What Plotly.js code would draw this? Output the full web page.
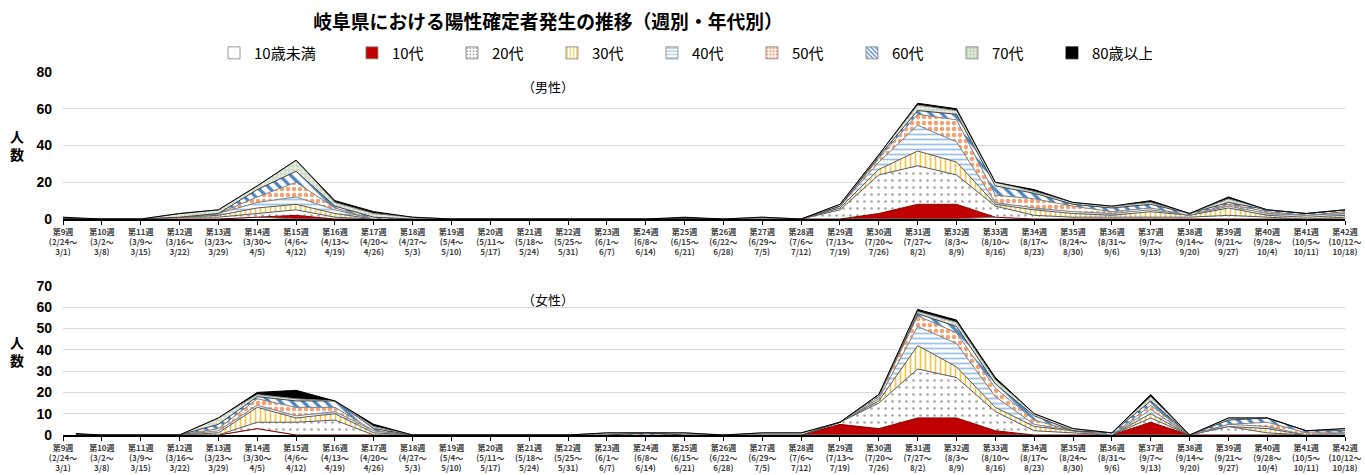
<!DOCTYPE html>
<html>
<head>
<meta charset="utf-8">
<script src="https://cdn.plot.ly/plotly-3.0.1.min.js"></script>
<style>
html,body{margin:0;padding:0;background:#fff;}
#chart{width:1365px;height:475px;}
</style>
</head>
<body>
<div id="chart"></div>
<script>
// ---- data ----
const weekNums = [9,10,11,12,13,14,15,16,17,18,19,20,21,22,23,24,25,26,27,28,29,30,31,32,33,34,35,36,37,38,39,40,41,42];
const weekStarts = ["2/24","3/2","3/9","3/16","3/23","3/30","4/6","4/13","4/20","4/27","5/4","5/11","5/18","5/25","6/1","6/8","6/15","6/22","6/29","7/6","7/13","7/20","7/27","8/3","8/10","8/17","8/24","8/31","9/7","9/14","9/21","9/28","10/5","10/12"];
const weekEnds = ["3/1","3/8","3/15","3/22","3/29","4/5","4/12","4/19","4/26","5/3","5/10","5/17","5/24","5/31","6/7","6/14","6/21","6/28","7/5","7/12","7/19","7/26","8/2","8/9","8/16","8/23","8/30","9/6","9/13","9/20","9/27","10/4","10/11","10/18"];
const ageGroups = ["10歳未満","10代","20代","30代","40代","50代","60代","70代","80歳以上"];

// male (男性)        w9 ........................................................................................ w42
const maleUnder10 = [0,0,0,0,0,1,0,0,0,0,0,0,0,0,0,0,0,0,0,0,0,0,0,0,1,0,0,0,0,0,0,0,0,0];
const male10s     = [0,0,0,0,0,0,2,0,0,0,0,0,0,0,0,0,0,0,0,0,0,3,8,8,0,0,0,0,0,0,0,0,0,0];
const male20s     = [0,0,0,1,1,2,3,1,0,0,0,0,0,0,0,0,0,0,0,0,5,21,21,16,6,2,1,1,1,1,2,1,0,1];
const male30s     = [0,0,0,0,1,3,3,2,0,0,0,0,0,0,0,0,0,0,0,0,1,3,8,7,1,3,2,1,3,1,4,1,1,1];
const male40s     = [0,0,0,0,1,3,4,2,0,0,0,0,0,0,0,0,0,0,0,0,1,4,14,11,1,1,1,1,1,0,1,1,1,1];
const male50s     = [0,0,0,0,0,3,8,1,0,0,0,0,0,0,0,0,0,0,0,0,0,2,6,12,4,5,3,1,1,0,1,1,0,1];
const male60s     = [0,0,0,0,0,4,6,1,1,0,0,0,0,0,0,0,0,0,0,0,0,1,2,3,5,3,1,2,2,1,1,1,1,1];
const male70s     = [0,0,0,2,2,2,6,2,2,1,0,0,0,0,0,0,0,0,1,0,1,1,3,2,2,1,1,1,1,0,2,0,0,0];
const male80plus  = [1,0,0,0,0,0,0,1,1,0,0,0,0,0,0,0,1,0,0,0,0,0,1,1,0,1,0,0,1,0,1,0,0,0];

// female (女性)
const femaleUnder10 = [0,0,0,0,0,3,0,0,0,0,0,0,0,0,0,0,0,0,0,0,0,0,0,0,0,0,0,0,0,0,0,0,0,0];
const female10s     = [0,0,0,0,0,0,0,0,0,0,0,0,0,0,0,0,0,0,0,0,5,3,8,8,2,0,0,0,6,0,0,0,0,0];
const female20s     = [0,0,0,0,0,3,6,7,0,0,0,0,0,0,0,0,0,0,0,0,1,12,23,19,9,2,1,0,2,0,4,1,0,0];
const female30s     = [0,0,0,0,1,7,2,3,1,0,0,0,0,0,0,0,0,0,0,0,0,1,11,5,2,2,1,0,2,0,0,2,0,0];
const female40s     = [0,0,0,0,1,1,1,1,1,0,0,0,0,0,0,0,0,0,0,0,0,1,9,11,5,1,0,0,2,0,1,1,0,1];
const female50s     = [0,0,0,0,1,3,4,2,0,0,0,0,0,0,0,0,0,0,0,0,0,1,5,5,4,2,0,0,2,0,0,2,1,0];
const female60s     = [0,0,0,0,2,1,3,3,1,0,0,0,0,0,0,1,0,0,0,0,0,1,1,3,2,2,0,1,2,0,2,2,1,1];
const female70s     = [0,0,0,0,3,1,1,0,1,0,0,0,0,0,1,0,1,0,1,1,0,0,1,2,2,1,1,0,2,0,1,0,0,1];
const female80plus  = [1,0,0,0,0,1,4,0,1,0,0,0,0,0,0,0,0,0,0,0,0,0,1,1,1,0,0,0,1,0,0,0,0,0];

const maleSeries = [maleUnder10,male10s,male20s,male30s,male40s,male50s,male60s,male70s,male80plus];
const femaleSeries = [femaleUnder10,female10s,female20s,female30s,female40s,female50s,female60s,female70s,female80plus];

// ---- styling ----
const styles = [
  {fillcolor:'#FFFFFF', line:'#7F7F7F'},
  {fillcolor:'#C00000', line:'#7F0000'},
  {fillpattern:{shape:'.', bgcolor:'#FFFFFF', fgcolor:'#A6A6A6', size:7, solidity:0.12}, line:'#595959'},
  {fillpattern:{shape:'|', bgcolor:'#FFFFFF', fgcolor:'#F2C84B', size:5, solidity:0.35}, line:'#595959'},
  {fillpattern:{shape:'-', bgcolor:'#FFFFFF', fgcolor:'#9DC3E6', size:5, solidity:0.35}, line:'#7F7F7F'},
  {fillpattern:{shape:'.', bgcolor:'#FFFFFF', fgcolor:'#F4A272', size:6, solidity:0.45}, line:'#7F7F7F'},
  {fillpattern:{shape:'\\', bgcolor:'#FFFFFF', fgcolor:'#4A86C5', size:8, solidity:0.4}, line:'#404040'},
  {fillpattern:{shape:'+', bgcolor:'#E8EFE0', fgcolor:'#9FB59A', size:4, solidity:0.2}, line:'#7F7F7F'},
  {fillcolor:'#000000', line:'#000000'}
];

const tickText = weekNums.map((w,i)=>'第'+w+'週<br>('+weekStarts[i]+'～<br>'+weekEnds[i]+')');
const xs = weekNums.map(w=>'w'+w);

const traces = [];
function addTraces(series, xa, ya, group){
  series.forEach((vals,i)=>{
    const st = styles[i];
    const t = {
      type:'scatter', mode:'lines', x:xs, y:vals, xaxis:xa, yaxis:ya,
      stackgroup:group, name:ageGroups[i], showlegend:false,
      line:{color:st.line, width:1, shape:'linear'}
    };
    if(st.fillpattern){ t.fillpattern = st.fillpattern; t.fillcolor = st.fillpattern.bgcolor; }
    else t.fillcolor = st.fillcolor;
    traces.push(t);
  });
}
addTraces(maleSeries,'x','y','male');
addTraces(femaleSeries,'x2','y2','female');

// legend-only square swatches (empty bar traces on a hidden axis pair)
ageGroups.forEach((g,i)=>{
  const st = styles[i];
  const m = {line:{color:i===8?'#000':'#7F7F7F', width:0.8}};
  if(st.fillpattern){ m.color = st.fillpattern.bgcolor; m.pattern = {shape:st.fillpattern.shape, bgcolor:st.fillpattern.bgcolor, fgcolor:st.fillpattern.fgcolor, size:4, solidity:Math.max(0.3, st.fillpattern.solidity)}; }
  else m.color = st.fillcolor;
  traces.push({type:'bar', x:[null], y:[null], xaxis:'x3', yaxis:'y3', name:g, marker:m,
    showlegend:true, legend: i===0 ? 'legend' : 'legend2', hoverinfo:'skip'});
});

const tickFontX = {family:'Noto Sans CJK JP, sans-serif', size:8, color:'#404040', weight:'bold'};
const tickFontY = {family:'Liberation Sans, Arial, sans-serif', size:14, color:'#000', weight:'bold'};

const xBase = {
  type:'category', range:[0, weekNums.length-1], tickmode:'array', tickvals:xs, ticktext:tickText,
  tickfont:tickFontX, tickangle:0, ticks:'outside', ticklen:4, tickcolor:'#000', tickwidth:1,
  showline:true, linecolor:'#000', linewidth:2, showgrid:false, zeroline:false, fixedrange:true
};
const yBase = {
  showgrid:true, gridcolor:'#D9D9D9', gridwidth:1, zeroline:false, showline:false,
  tickfont:tickFontY, ticks:'', ticklabelstandoff:10, fixedrange:true
};
const legendFont = {family:'Noto Sans CJK JP, sans-serif', size:15, color:'#000'};

const layout = {
  width:1365, height:475,
  margin:{l:63, r:20, t:72, b:40},
  paper_bgcolor:'#FFFFFF', plot_bgcolor:'#FFFFFF',
  font:{family:'Noto Sans CJK JP, sans-serif'},
  title:{text:'<b>岐阜県における陽性確定者発生の推移（週別・年代別）</b>', x:0.4015, xref:'container', xanchor:'center', y:0.953, yref:'container', yanchor:'middle',
    font:{family:'Noto Sans CJK JP, sans-serif', size:18.8, color:'#000'}},
  xaxis: Object.assign({}, xBase, {anchor:'y'}),
  yaxis: Object.assign({}, yBase, {domain:[0.595,1], range:[0,80], dtick:20, anchor:'x'}),
  xaxis2: Object.assign({}, xBase, {anchor:'y2'}),
  yaxis2: Object.assign({}, yBase, {domain:[0,0.4105], range:[0,70], dtick:10, anchor:'x2'}),
  xaxis3: {visible:false, domain:[0,0.01], anchor:'y3', fixedrange:true},
  yaxis3: {visible:false, domain:[0,0.01], anchor:'x3', fixedrange:true},
  showlegend:true,
  legend:{orientation:'h', x:0.1178, xanchor:'left', y:1.052, yanchor:'middle',
    font:legendFont, itemwidth:30, bgcolor:'rgba(0,0,0,0)'},
  legend2:{orientation:'h', x:0.2254, xanchor:'left', y:1.052, yanchor:'middle', traceorder:'normal',
    font:legendFont, entrywidth:55, entrywidthmode:'pixels', itemwidth:30, bgcolor:'rgba(0,0,0,0)'},
  annotations:[
    {text:'（男性）', xref:'paper', yref:'paper', x:0.378, y:0.959, showarrow:false, xanchor:'center', yanchor:'middle', font:{size:13, color:'#000'}},
    {text:'（女性）', xref:'paper', yref:'paper', x:0.378, y:0.372, showarrow:false, xanchor:'center', yanchor:'middle', font:{size:13, color:'#000'}},
    {text:'<b>人<br>数</b>', xref:'paper', yref:'paper', x:-0.036, y:0.80, showarrow:false, xanchor:'center', yanchor:'middle', font:{size:14, color:'#000'}},
    {text:'<b>人<br>数</b>', xref:'paper', yref:'paper', x:-0.036, y:0.232, showarrow:false, xanchor:'center', yanchor:'middle', font:{size:14, color:'#000'}}
  ]
};

Plotly.newPlot('chart', traces, layout, {displayModeBar:false, staticPlot:true});
</script>
</body>
</html>
